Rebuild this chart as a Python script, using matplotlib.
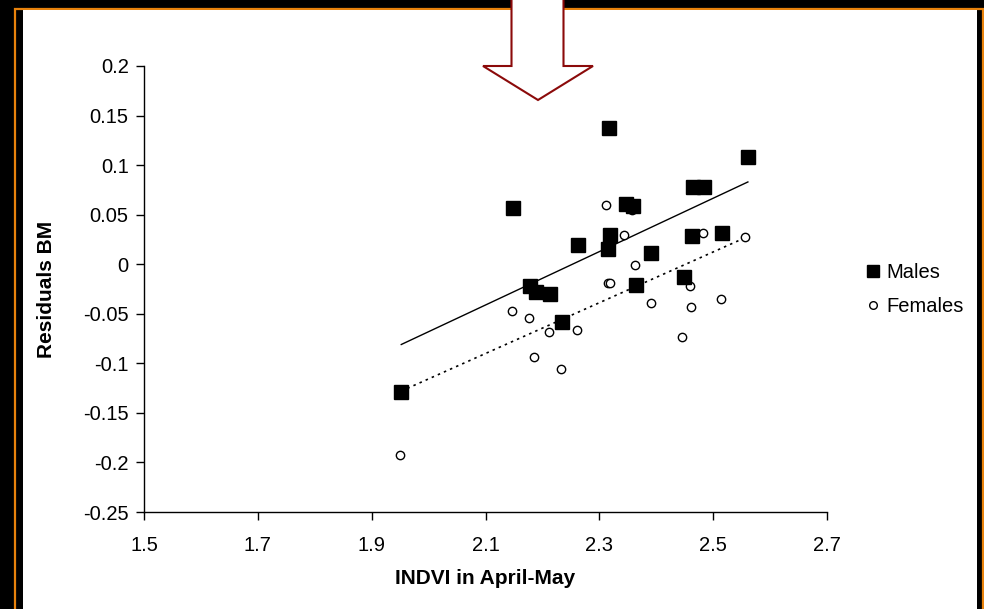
import numpy as np
import matplotlib
matplotlib.use("Agg")
import matplotlib.pyplot as plt
from matplotlib.patches import Rectangle, Polygon
from matplotlib.lines import Line2D

plt.rcParams["font.family"] = ["Liberation Sans", "DejaVu Sans"]

# data
males_x = [2.317, 2.149, 2.346, 2.360, 2.319, 2.263, 2.316, 2.391, 2.179, 2.188,
           2.214, 2.365, 2.449, 2.234, 1.952, 2.561, 2.465, 2.484, 2.463, 2.515]
males_y = [0.137, 0.057, 0.061, 0.059, 0.029, 0.019, 0.015, 0.011, -0.022, -0.028,
           -0.030, -0.021, -0.013, -0.058, -0.129, 0.108, 0.078, 0.078, 0.028, 0.031]
females_x = [2.312, 2.343, 2.362, 2.315, 2.318, 2.390, 2.147, 2.176, 2.211, 2.260,
             2.186, 2.233, 2.459, 2.461, 2.514, 2.446, 1.950, 2.482, 2.556, 2.357]
females_y = [0.060, 0.029, -0.001, -0.019, -0.019, -0.039, -0.047, -0.054, -0.068, -0.066,
             -0.094, -0.106, -0.022, -0.043, -0.035, -0.073, -0.192, 0.031, 0.027, 0.055]
trend_x = [1.952, 2.561]
males_trend = [-0.081, 0.083]
females_trend = [-0.128, 0.028]

xticks = [1.5, 1.7, 1.9, 2.1, 2.3, 2.5, 2.7]
yticks = [0.2, 0.15, 0.1, 0.05, 0, -0.05, -0.1, -0.15, -0.2, -0.25]

W, H = 984, 609
fig = plt.figure(figsize=(W / 100, H / 100), dpi=100, facecolor="black")


def px(x, y):
    # figure pixel (from top-left) -> figure fraction
    return (x / W, 1 - y / H)


# orange frame and white panel
x0, y0 = px(15, 9)
fig.patches.append(Rectangle((x0, -0.1), 968 / W, y0 + 0.1, transform=fig.transFigure,
                             fill=False, edgecolor="#E8820C", lw=1.6, zorder=0))
x1, y1 = px(23, 10)
fig.patches.append(Rectangle((x1, 0), 954 / W, y1, transform=fig.transFigure,
                             facecolor="white", edgecolor="none", zorder=1))

ax = fig.add_axes([144 / W, 1 - 512 / H, 683 / W, 446 / H])
ax.set_zorder(3)
ax.set_facecolor("none")
ax.set_xlim(1.5, 2.7)
ax.set_ylim(-0.25, 0.2)
ax.set_xticks(xticks)
ax.set_xticklabels([str(v) for v in xticks])
ax.set_yticks(yticks)
ax.set_yticklabels([("%g" % v) for v in yticks])
for s in ["top", "right"]:
    ax.spines[s].set_visible(False)
for s in ["left", "bottom"]:
    ax.spines[s].set_color("black")
    ax.spines[s].set_linewidth(1.0)
ax.tick_params(direction="out", length=6, width=1.0, labelsize=14.5)
ax.tick_params(axis="x", pad=11)
ax.tick_params(axis="y", pad=5)

ax.plot(trend_x, males_trend, "-", color="black", lw=1.0, zorder=2)
ax.plot(trend_x, females_trend, ls=(0, (1.5, 2.5)), color="black", lw=1.2, zorder=2)
ax.plot(females_x, females_y, "o", ms=6, mfc="white", mec="black", mew=1.0,
        ls="none", zorder=3, clip_on=False)
ax.plot(males_x, males_y, "s", ms=9.5, mfc="black", mec="black",
        ls="none", zorder=4, clip_on=False)

fig.text(*px(485, 579), "INDVI in April-May", fontsize=15, fontweight="bold",
         ha="center", va="center", zorder=4)
fig.text(*px(46, 289), "Residuals BM", fontsize=15, fontweight="bold",
         rotation=90, ha="center", va="center", zorder=4)

handles = [Line2D([], [], marker="s", ms=8, mfc="black", mec="black", ls="none"),
           Line2D([], [], marker="o", ms=5.5, mfc="white", mec="black", mew=1.0, ls="none")]
leg = fig.legend(handles, ["Males", "Females"], loc="upper left", bbox_to_anchor=px(855, 253),
                 frameon=False, fontsize=14.5, handlelength=0.8, handletextpad=0.25,
                 labelspacing=0.75, borderpad=0)
leg.set_zorder(4)

# down arrow at the top
arrow_px = [(511.5, -5), (563.5, -5), (563.5, 66), (593, 66), (538, 100),
            (483, 66), (511.5, 66)]
fig.patches.append(Polygon([px(x, y) for x, y in arrow_px], closed=True,
                           transform=fig.transFigure, facecolor="white",
                           edgecolor="#8B0A0A", lw=1.5, zorder=5))

fig.savefig("out.png", dpi=100, facecolor="black")
